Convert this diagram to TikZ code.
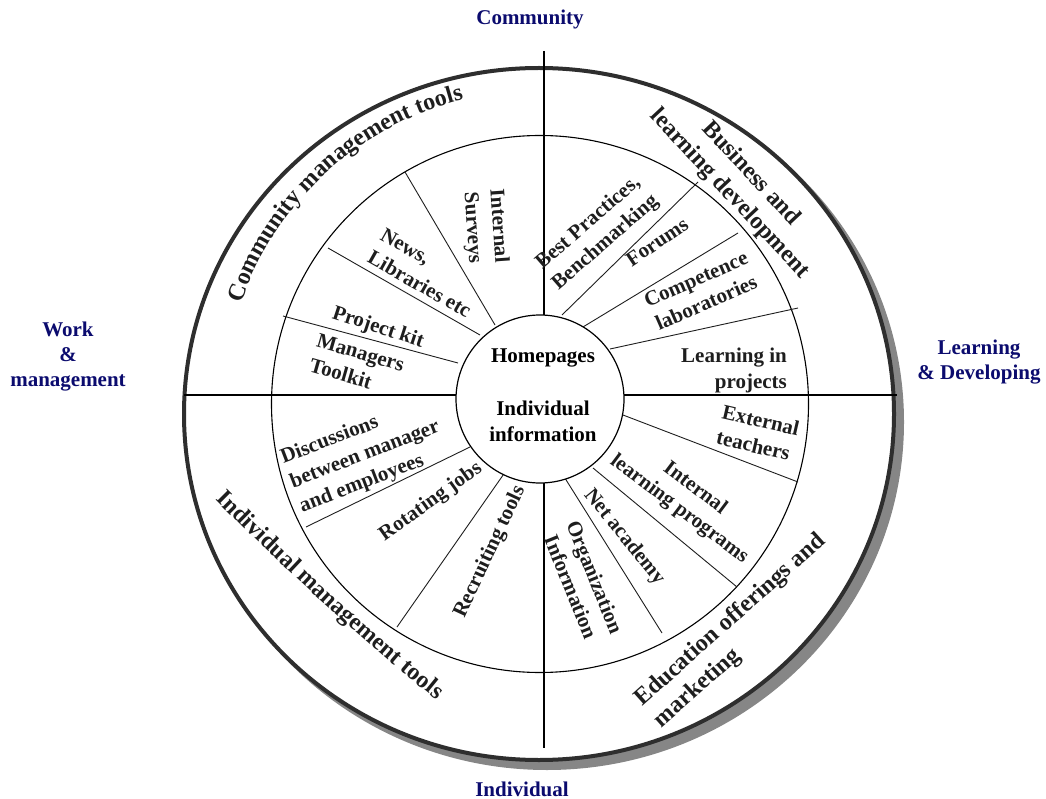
\documentclass[tikz,border=0pt]{standalone}
\usepackage{fontspec}
\setmainfont{Liberation Serif}
\usetikzlibrary{decorations.text}
\definecolor{navy}{HTML}{0B0B6E}
\definecolor{rim}{HTML}{2E2E2E}
\definecolor{rimshadow}{HTML}{868686}
\definecolor{ink}{HTML}{1E1E1E}
\newcommand{\ringfont}{\bfseries\fontsize{24}{24}\selectfont\color{ink}}

\begin{document}
\begin{tikzpicture}[x=1pt,y=-1pt,
  spoke/.style={line width=0.9pt, draw=ink},
  axis/.style={line width=1.2pt, draw=black},
  lbl/.style={font=\bfseries\fontsize{21}{26}\selectfont, text=ink, align=center, inner sep=0pt},
  ring/.style={font=\bfseries\fontsize{24}{29}\selectfont, text=ink, align=center, inner sep=0pt},
  pole/.style={font=\bfseries\fontsize{21}{25}\selectfont, text=navy, align=center, inner sep=0pt},
  ringtext/.style={decorate, decoration={text along path, text align=center, text={|\ringfont|#1}}}
]
\useasboundingbox (0,0) rectangle (1046,799);

% outer rim with its drop shadow
\fill[rimshadow] (547,422) ellipse [x radius=357, y radius=348];
\draw[rim, line width=4pt, fill=white] (539,414) ellipse [x radius=355, y radius=346];

% middle ring
\draw[line width=1.1pt] (540,404) circle [radius=268.5];

% quadrant axes
\coordinate (nTop) at (544,51);
\coordinate (nBot) at (544,748);
\coordinate (wL) at (184,395);
\coordinate (eR) at (897,395);
\draw[axis] (nTop) -- (nBot);
\draw[axis] (wL) -- (eR);

% spokes of the middle ring
\draw[spoke] (405,172) -- (495,325);
\draw[spoke] (328,248) -- (480,335);
\draw[spoke] (283,316) -- (458,363);
\draw[spoke] (698,182) -- (562,315);
\draw[spoke] (738,233) -- (578,330);
\draw[spoke] (798,308) -- (610,349);
\draw[spoke] (623,415) -- (798,482);
\draw[spoke] (593,468) -- (737,587);
\draw[spoke] (563,475) -- (662,633);
\draw[spoke] (470,447) -- (306,527);
\draw[spoke] (508,468) -- (397,627);

% hub
\draw[line width=1.2pt, fill=white] (540,399) circle [radius=84];
\node[lbl, text=black] (home) at (543,358) {Homepages};
\node[lbl, text=black] (indiv) at (543,421) {Individual\\information};

% middle ring labels
\node[lbl, rotate=-86] (surveys) at (485,227) {Internal\\Surveys};
\node[lbl, rotate=-29.5, align=left] (news) at (426,273) {News,\\Libraries etc};
\node[lbl, rotate=-18] (kit) at (378,328) {Project kit};
\node[lbl, rotate=-16, align=left] (mgr) at (357,365) {Managers\\Toolkit};
\node[lbl, rotate=41] (best) at (597,233) {Best Practices,\\Benchmarking};
\node[lbl, rotate=34] (forums) at (657,242) {Forums};
\node[lbl, rotate=23.6] (comp) at (701,291) {Competence\\laboratories};
\node[lbl, align=right] (proj) at (734,370) {Learning in\\projects};
\node[lbl, rotate=-13, align=left] (ext) at (758,433) {External\\teachers};
\node[lbl, rotate=-37] (ilp) at (687,499) {Internal\\learning programs};
\node[lbl, rotate=-51] (net) at (624,537) {Net academy};
\node[lbl, rotate=-68] (org) at (583,582) {Organization\\Information};
\node[lbl, rotate=21, align=left] (disc) at (365,455) {Discussions\\between manager\\and employees};
\node[lbl, rotate=35.5] (rot) at (431,502) {Rotating jobs};
\node[lbl, rotate=65] (recr) at (490,552) {Recruiting tools};

% outer ring labels
\path[ringtext={Community management tools}] (540,406) ++(-161:316) arc [start angle=-161, end angle=-104, radius=316];
\path[ringtext={Individual management tools}] (204,488) .. controls (283,568) and (362,641) .. (449,710);
\node[ring, rotate=-47] (bld) at (740,184) {Business and\\learning development};
\node[ring, rotate=41.7, align=left] (edu) at (740,631) {Education offerings and\\marketing};

% quadrant titles
\node[pole] (pN) at (530,19) {Community};
\node[pole] (pS) at (522,789) {Individual};
\node[pole] (pW) at (68,357) {Work\\\&\\management};
\node[pole] (pE) at (979,362) {Learning\\\& Developing};
\end{tikzpicture}
\end{document}
